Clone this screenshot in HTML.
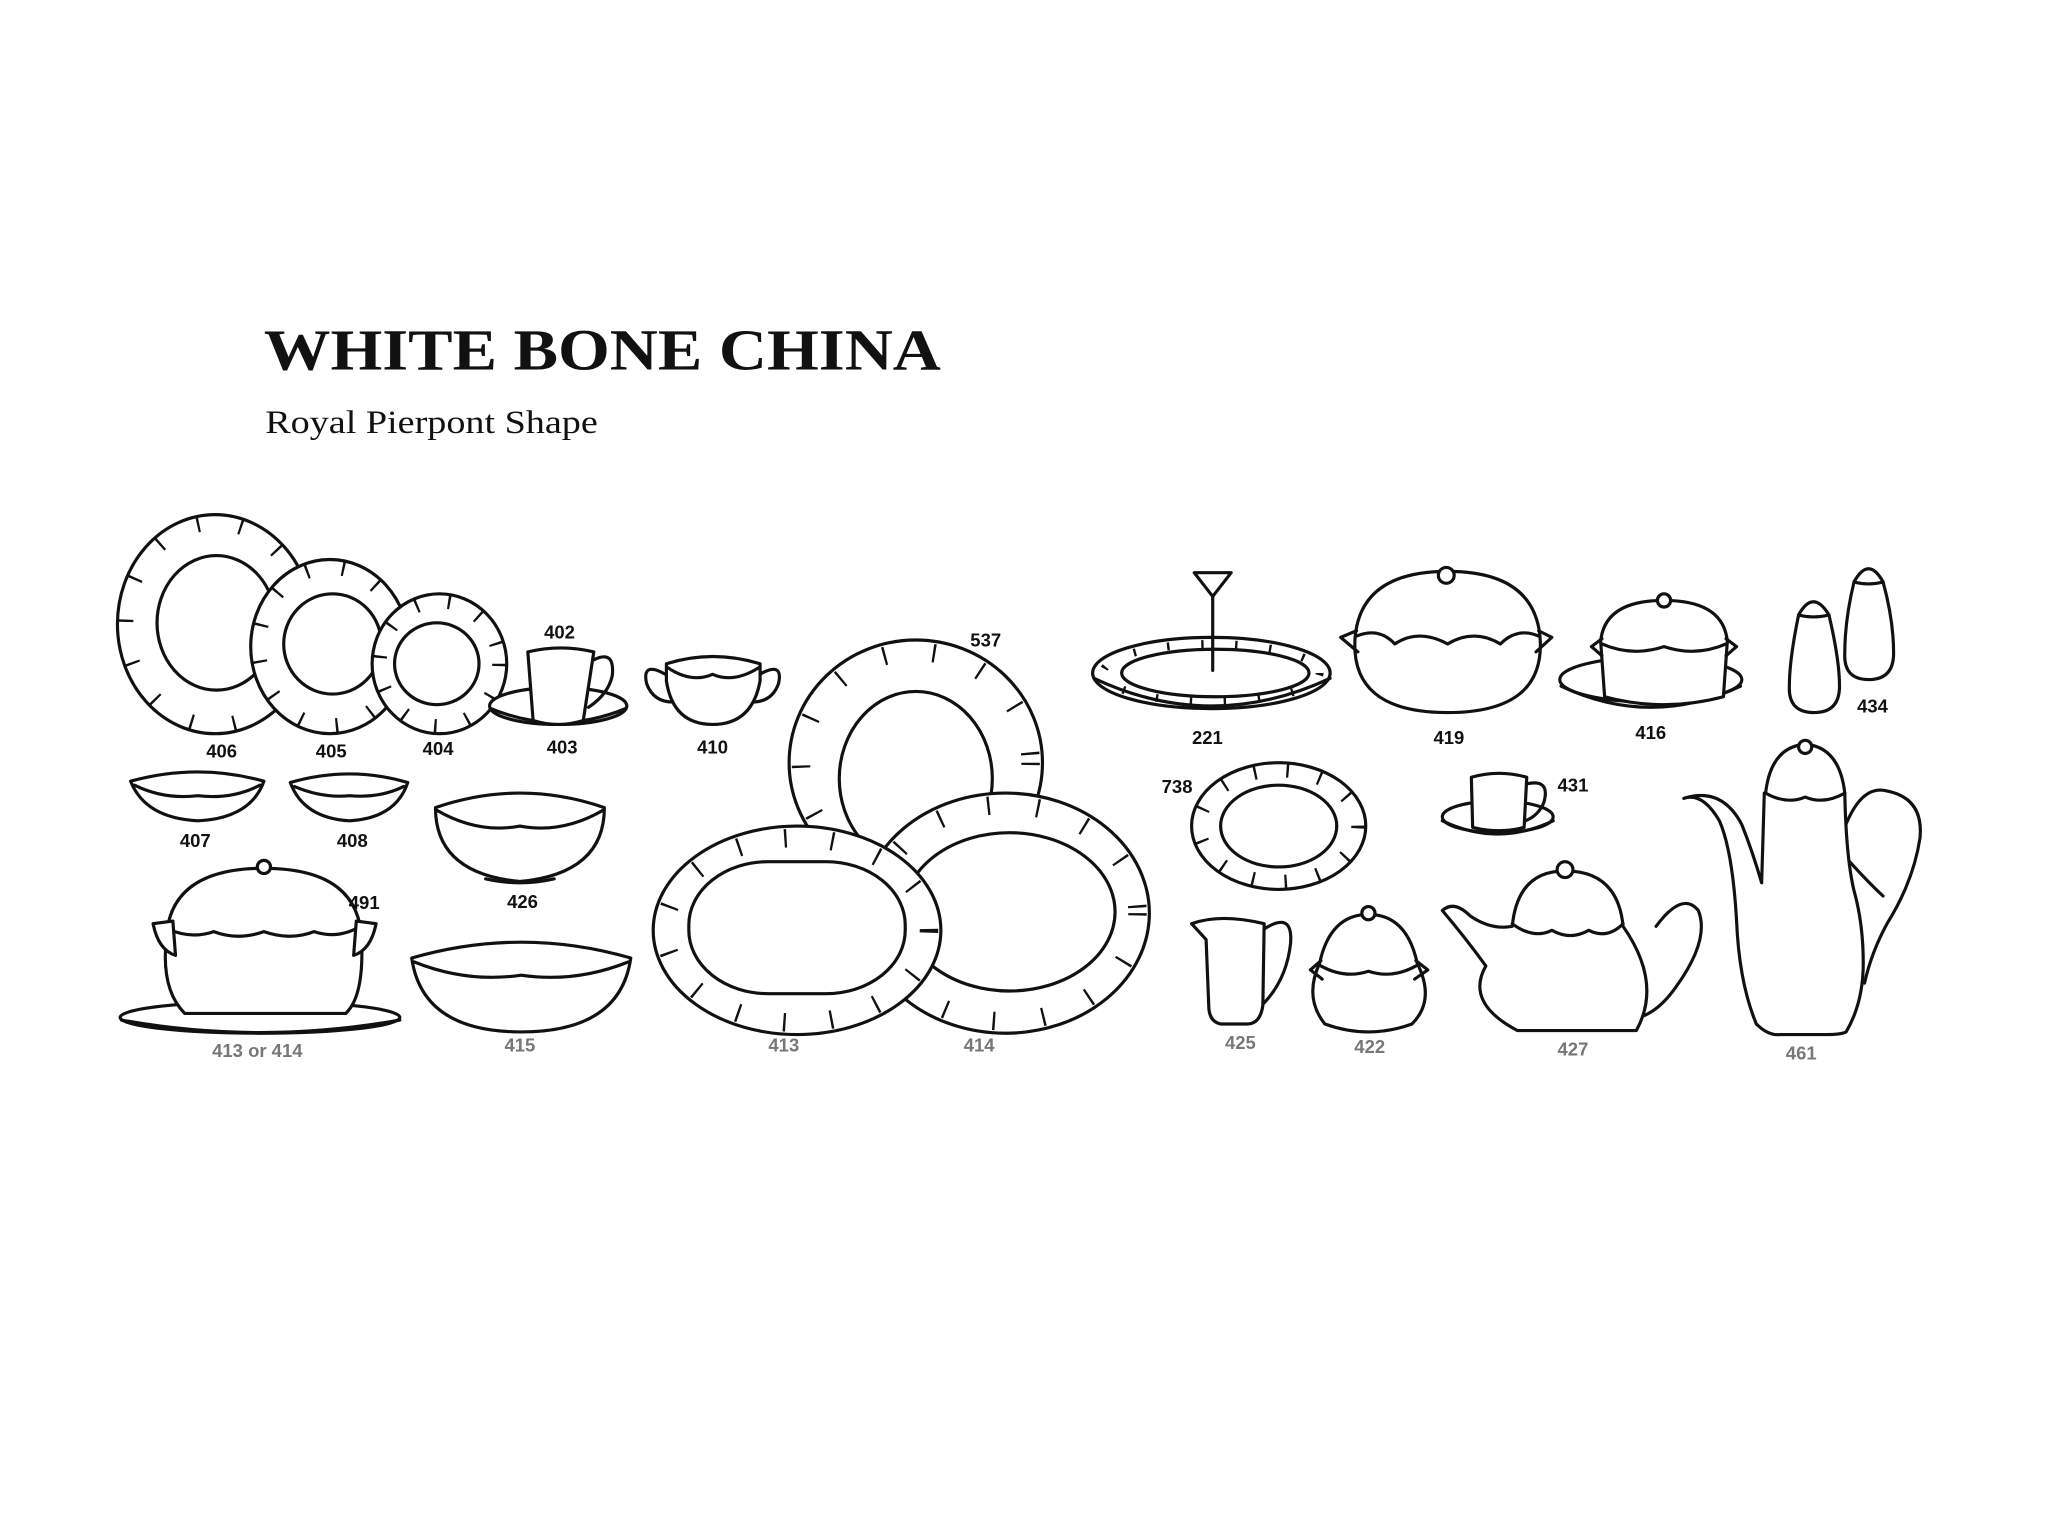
<!DOCTYPE html>
<html><head><meta charset="utf-8"><style>
html,body{margin:0;padding:0;background:#fff;}
svg{display:block}
text{font-family:"Liberation Sans",sans-serif;font-weight:bold;font-size:14px;fill:#111;text-anchor:middle}
.t{font-family:"Liberation Serif",serif;text-anchor:start}
.s{fill:none;stroke:#111;stroke-width:2.4;stroke-linejoin:round;stroke-linecap:round}
.w{fill:#fff;stroke:#111;stroke-width:2.4;stroke-linejoin:round}
.tk{fill:none;stroke:#111}
.g{fill:#777}
</style></head><body>
<svg width="2048" height="1536" viewBox="0 0 1552 1164" xmlns="http://www.w3.org/2000/svg">
<text class="t" x="200" y="280" textLength="513" lengthAdjust="spacingAndGlyphs" style="font-size:44px;font-weight:bold">WHITE BONE CHINA</text>
<text class="t" x="201" y="328" textLength="252" lengthAdjust="spacingAndGlyphs" style="font-size:25px;font-weight:normal">Royal Pierpont Shape</text>

<!-- 406 -->
<ellipse class="w" cx="163" cy="473" rx="74" ry="83"/>
<ellipse class="tk" cx="163" cy="473" rx="68" ry="77" stroke-width="12" stroke-dasharray="1.8 31"/>
<ellipse class="s" cx="164" cy="472" rx="45" ry="51"/>
<!-- 405 -->
<ellipse class="w" cx="250" cy="490" rx="60" ry="66"/>
<ellipse class="tk" cx="250" cy="490" rx="54" ry="60" stroke-width="11" stroke-dasharray="1.8 26"/>
<ellipse class="s" cx="252" cy="488" rx="37" ry="38"/>
<!-- 404 -->
<ellipse class="w" cx="333" cy="503" rx="51" ry="53"/>
<ellipse class="tk" cx="333" cy="503" rx="45" ry="47" stroke-width="10" stroke-dasharray="1.8 23"/>
<ellipse class="s" cx="331" cy="503" rx="32" ry="31"/>
<text x="168" y="574">406</text><text x="251" y="574">405</text><text x="332" y="572">404</text>

<!-- 402/403 -->
<ellipse class="w" cx="423" cy="535" rx="52" ry="14"/>
<path class="s" d="M372 537 Q423 558 474 537"/>
<path class="w" d="M400 494 L404 546 Q423 552 442 546 L450 494 Q425 488 400 494Z"/>
<path class="s" d="M450 500 Q466 492 464 512 Q461 526 446 536"/>
<text x="424" y="484">402</text><text x="426" y="571">403</text>

<!-- 410 -->
<path class="s" d="M506 512 Q486 500 490 518 Q495 532 510 532" stroke-width="3"/>
<path class="s" d="M574 512 Q594 500 590 518 Q585 532 570 532" stroke-width="3"/>
<path class="w" d="M505 503 Q540 492 576 503 L576 516 Q570 549 540 549 Q510 549 505 516Z"/>
<path class="s" d="M506 506 Q524 518 540 511 Q556 518 575 506"/>
<text x="540" y="571">410</text>

<!-- 537 -->
<ellipse class="w" cx="694" cy="578" rx="96" ry="93"/>
<ellipse class="tk" cx="694" cy="578" rx="87" ry="84" stroke-width="14" stroke-dasharray="1.8 36"/>
<ellipse class="s" cx="694" cy="590" rx="58" ry="66"/>
<text x="747" y="490">537</text>

<!-- 407, 408 -->
<path class="w" d="M99 592 Q150 578 200 592 Q190 620 150 622 Q110 620 99 592Z"/>
<path class="s" d="M102 595 Q124 606 150 603 Q176 606 197 595"/>
<path class="w" d="M220 593 Q265 580 309 593 Q300 620 265 622 Q230 620 220 593Z"/>
<path class="s" d="M223 596 Q244 605 265 603 Q288 605 306 596"/>
<text x="148" y="642">407</text><text x="267" y="642">408</text>

<!-- 426 -->
<path class="w" d="M330 612 Q394 590 458 612 Q458 662 394 668 Q330 662 330 612Z"/>
<path class="s" d="M331 614 Q362 632 394 626 Q426 632 457 614"/>
<path class="s" d="M368 666 Q394 672 420 666"/>
<text x="396" y="688">426</text>

<!-- 491 tureen -->
<ellipse class="w" cx="197" cy="771" rx="106" ry="12"/>
<path class="s" d="M92 773 Q197 792 303 773"/>
<path class="w" d="M126 712 Q128 658 200 658 Q272 658 274 712 Q276 755 262 768 L140 768 Q122 750 126 712Z"/>
<circle class="w" cx="200" cy="657" r="5"/>
<path class="s" d="M127 704 Q145 712 162 706 Q180 713 200 706 Q220 713 238 706 Q256 712 273 702"/>
<path class="w" d="M116 700 L131 698 L133 724 Q120 720 116 700Z"/>
<path class="w" d="M285 700 L270 698 L268 724 Q281 720 285 700Z"/>
<text x="276" y="689">491</text>
<text x="195" y="801" class="g">413 or 414</text>

<!-- 415 -->
<path class="w" d="M312 726 Q395 702 478 726 Q470 782 395 782 Q320 782 312 726Z"/>
<path class="s" d="M314 729 Q354 745 395 739 Q436 745 476 729"/>
<text x="394" y="797" class="g">415</text>

<!-- 414 -->
<ellipse class="w" cx="762" cy="692" rx="109" ry="91"/>
<ellipse class="tk" cx="762" cy="692" rx="100" ry="82" stroke-width="14" stroke-dasharray="1.8 36"/>
<ellipse class="s" cx="765" cy="691" rx="80" ry="60"/>
<!-- 413 -->
<ellipse class="w" cx="604" cy="705" rx="109" ry="79"/>
<ellipse class="tk" cx="604" cy="705" rx="100" ry="70" stroke-width="14" stroke-dasharray="1.8 34"/>
<rect class="s" x="522" y="653" width="164" height="100" rx="60" ry="48"/>
<text x="594" y="797" class="g">413</text><text x="742" y="797" class="g">414</text>

<!-- 221 -->
<ellipse class="w" cx="918" cy="510" rx="90" ry="27"/>
<path class="s" d="M829 514 Q918 556 1008 514"/>
<ellipse class="tk" cx="918" cy="510" rx="82" ry="22" stroke-width="6" stroke-dasharray="1.8 24"/>
<ellipse class="s" cx="921" cy="510" rx="71" ry="18"/>
<path class="s" d="M905 434 L933 434 L919 452 Z" stroke-width="3"/>
<path class="s" d="M919 452 L919 508" stroke-width="3.5"/>
<text x="915" y="564">221</text>

<!-- 419 -->
<path class="w" d="M1027 482 Q1032 433 1097 433 Q1162 433 1167 482 Q1172 540 1097 540 Q1022 540 1027 482Z"/>
<circle class="w" cx="1096" cy="436" r="6"/>
<path class="s" d="M1028 482 Q1045 475 1057 488 Q1075 476 1097 488 Q1117 476 1137 488 Q1150 475 1166 482"/>
<path class="s" d="M1028 478 L1016 483 L1029 494 M1166 478 L1176 483 L1164 494"/>
<text x="1098" y="564">419</text>

<!-- 416 -->
<ellipse class="w" cx="1251" cy="515" rx="69" ry="17"/>
<path class="s" d="M1183 520 Q1251 552 1319 520"/>
<path class="w" d="M1213 486 Q1216 455 1261 455 Q1306 455 1309 486 L1306 528 Q1261 540 1216 528Z"/>
<circle class="w" cx="1261" cy="455" r="5"/>
<path class="s" d="M1214 488 Q1237 498 1261 490 Q1285 498 1308 488"/>
<path class="s" d="M1214 484 L1206 490 L1214 497 M1308 484 L1316 490 L1308 497"/>
<text x="1251" y="560">416</text>

<!-- 434 -->
<path class="w" d="M1363 466 Q1374 446 1386 466 Q1394 500 1394 520 Q1394 540 1375 540 Q1355 540 1356 520 Q1356 500 1363 466Z"/>
<path class="s" d="M1363 466 Q1374 469 1386 466"/>
<path class="w" d="M1405 441 Q1416 421 1427 441 Q1435 470 1435 495 Q1435 515 1416 515 Q1397 515 1398 495 Q1398 470 1405 441Z"/>
<path class="s" d="M1405 441 Q1416 444 1427 441"/>
<text x="1419" y="540">434</text>

<!-- 738 -->
<ellipse class="w" cx="969" cy="626" rx="66" ry="48"/>
<ellipse class="tk" cx="969" cy="626" rx="60" ry="42" stroke-width="10" stroke-dasharray="1.8 23"/>
<ellipse class="s" cx="969" cy="626" rx="44" ry="31"/>
<text x="892" y="601">738</text>

<!-- 431 -->
<ellipse class="w" cx="1135" cy="619" rx="42" ry="12"/>
<path class="s" d="M1093 622 Q1135 642 1177 622"/>
<path class="w" d="M1115 589 L1116 627 Q1136 632 1155 627 L1157 589 Q1136 583 1115 589Z"/>
<path class="s" d="M1157 594 Q1175 590 1170 608 Q1166 618 1156 622"/>
<text x="1192" y="600">431</text>

<!-- 425 -->
<path class="w" d="M903 700 Q925 692 958 700 L957 762 Q955 776 945 776 L925 776 Q916 774 916 762 L914 712 Z"/>
<path class="s" d="M958 704 Q980 690 978 715 Q975 742 958 760"/>
<text x="940" y="795" class="g">425</text>

<!-- 422 -->
<path class="w" d="M1000 730 Q1008 693 1037 693 Q1066 693 1074 730 Q1088 758 1070 776 Q1037 788 1004 776 Q988 756 1000 730Z"/>
<circle class="w" cx="1037" cy="692" r="5"/>
<path class="s" d="M1001 732 Q1019 742 1037 736 Q1055 742 1073 732"/>
<path class="s" d="M1001 728 L993 735 L1002 742 M1073 728 L1082 735 L1072 742"/>
<text x="1038" y="798" class="g">422</text>

<!-- 427 -->
<path class="s" d="M1255 702 Q1275 675 1287 690 Q1296 712 1270 748 Q1258 765 1245 770"/>
<path class="w" d="M1146 702 Q1150 660 1186 660 Q1226 660 1230 702 Q1260 745 1240 781 L1150 781 Q1110 760 1126 732 Q1110 710 1093 690 Q1102 682 1114 694 Q1130 705 1146 702Z"/>
<circle class="w" cx="1186" cy="659" r="6"/>
<path class="s" d="M1146 700 Q1162 712 1176 705 Q1190 713 1204 705 Q1218 712 1230 700"/>
<text x="1192" y="800" class="g">427</text>

<!-- 461 -->
<path class="s" d="M1398 627 Q1410 596 1428 599 Q1458 604 1455 635 Q1450 668 1430 700 Q1418 722 1413 745" stroke-width="3"/>
<path class="s" d="M1399 650 Q1415 668 1427 679"/>
<path class="w" d="M1337 601 L1335 669 Q1328 645 1320 625 Q1305 596 1276 605 Q1290 600 1303 622 Q1313 645 1316 698 Q1318 745 1331 776 Q1340 785 1349 784 L1384 784 Q1395 784 1399 782 Q1412 760 1412 730 Q1412 700 1405 675 Q1399 650 1398 601 Z"/>
<path class="w" d="M1338 601 Q1342 566 1368 564 Q1394 566 1398 601 Q1382 610 1368 604 Q1354 610 1338 601Z"/>
<circle class="w" cx="1368" cy="566" r="5"/>
<text x="1365" y="803" class="g">461</text>
</svg>
</body></html>
